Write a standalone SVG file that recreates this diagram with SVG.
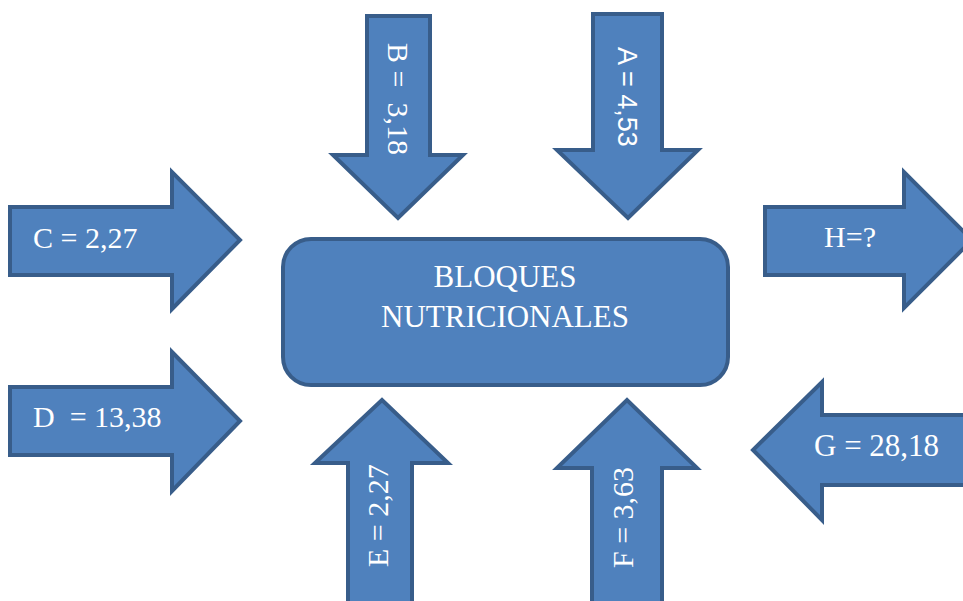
<svg xmlns="http://www.w3.org/2000/svg" width="963" height="601" viewBox="0 0 963 601">
<style>
.sh{fill:#4F81BD;stroke:#385D8A;stroke-width:4;stroke-linejoin:miter}
.t{fill:#ffffff;font-family:"Liberation Serif","Times New Roman",serif;font-size:30px}
.b{font-size:31px}
.s{fill:#ffffff;font-family:"Liberation Sans",Arial,sans-serif;font-size:27px}
</style>
<rect width="963" height="601" fill="#ffffff"/>
<g id="connectors">
<g id="arrowB"><path class="sh" d="M367,16 H430 V155 H463 L398,218 L333,155 H367 Z"/>
<text class="t" transform="translate(388,43) rotate(90)" xml:space="preserve">B =  3,18</text></g>
<g id="arrowA"><path class="sh" d="M593,14 H662 V150 H698 L628,218 L557,150 H593 Z"/>
<text class="s" transform="translate(618,47) rotate(90)">A = 4,53</text></g>
<g id="arrowC"><path class="sh" d="M10,207 H172 V172 L240,240 L172,309 V275 H10 Z"/>
<text class="t" x="33" y="248">C = 2,27</text></g>
<g id="arrowD"><path class="sh" d="M10,387 H172 V352 L240,421 L172,491 V455 H10 Z"/>
<text class="t" x="33" y="427" xml:space="preserve">D  = 13,38</text></g>
<g id="arrowH"><path class="sh" d="M765,207 H904 V172 L972,240 L904,308 V275 H765 Z"/>
<text class="t" x="850" y="247" text-anchor="middle">H=?</text></g>
<g id="arrowG"><path class="sh" d="M980,415 H822 V382 L753,450 L822,520 V485 H980 Z"/>
<text class="t b" x="814" y="456">G = 28,18</text></g>
<g id="arrowE"><path class="sh" d="M348,606 V463 H315 L382,400 L448,463 H412 V606 Z"/>
<text class="t" transform="translate(388,567) rotate(-90)">E = 2,27</text></g>
<g id="arrowF"><path class="sh" d="M592,606 V468 H557 L627,400 L697,468 H662 V606 Z"/>
<text class="t" transform="translate(633,568) rotate(-90)">F = 3,63</text></g>
</g>
<g id="bloques">
<rect class="sh" x="283" y="239" width="445" height="146" rx="28" ry="28"/>
<text class="t b" x="505" y="287" text-anchor="middle">BLOQUES</text>
<text class="t b" x="505" y="327" text-anchor="middle">NUTRICIONALES</text>
</g>
</svg>
